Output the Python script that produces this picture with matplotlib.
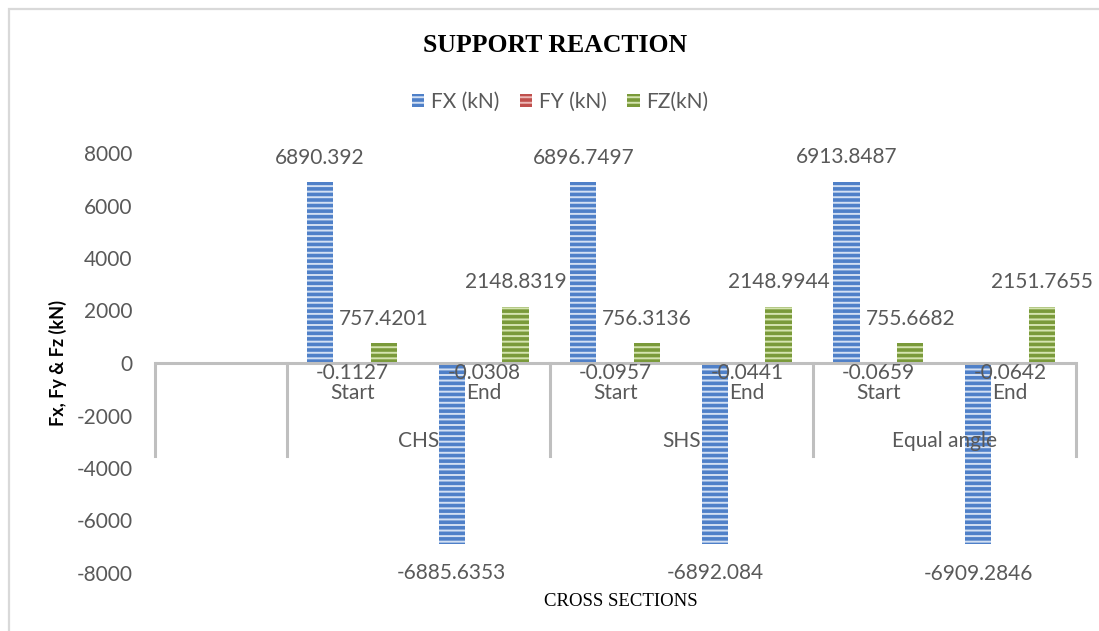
import matplotlib.pyplot as plt
import matplotlib.transforms as mtransforms
from matplotlib.patches import Rectangle
import numpy as np

# datos
categorias = ['Start', 'End', 'Start', 'End', 'Start', 'End']
grupos = ['CHS', 'SHS', 'Equal angle']
fx = [6890.392, -6885.6353, 6896.7497, -6892.084, 6913.8487, -6909.2846]
fy = [-0.1127, -0.0308, -0.0957, -0.0441, -0.0659, -0.0642]
fz = [757.4201, 2148.8319, 756.3136, 2148.9944, 755.6682, 2151.7655]
series = ['FX (kN)', 'FY (kN)', 'FZ(kN)']

plt.rcParams['font.family'] = ['Lato', 'DejaVu Sans']
plt.rcParams['axes.unicode_minus'] = False
plt.rcParams['hatch.linewidth'] = 1.4
gris = '#595959'
linea = '#BFBFBF'

W, H = 1099, 631
fig = plt.figure(figsize=(W / 100, H / 100), dpi=100)
ax = fig.add_axes([155 / W, 1 - 573 / H, 921 / W, 420 / H])

x = np.arange(len(categorias))
ancho = 0.2
desp = [-0.245, 0.0, 0.24]
colores = ['#4F80C8', '#C0504D', '#7A9A3A']
rayas = ['#D3E0F3', '#EDB9B7', '#D5E4B0']

for i, (vals, nombre) in enumerate(zip([fx, fy, fz], series)):
    plt.rcParams['hatch.color'] = rayas[i]
    ax.bar(x + desp[i], vals, ancho, color=colores[i], hatch='---',
           linewidth=0, label=nombre, zorder=2)

# etiquetas de valores
for i, vals in enumerate([fx, fy, fz]):
    for xi, v in zip(x, vals):
        if i == 1:
            off = -7.5
        elif v >= 0:
            off = 17.5
        else:
            off = -21
        ax.annotate(str(v), (xi + desp[i], v), xytext=(0, off),
                    textcoords='offset points', ha='center', va='center',
                    fontsize=15, color=gris, zorder=5)

ax.set_xlim(-1.5, 5.5)
ax.set_ylim(-8000, 8000)
ax.set_yticks(range(-8000, 8001, 2000))
ax.tick_params(axis='y', length=0, pad=16, labelsize=15, labelcolor=gris)
ax.set_xticks([])
for s in ax.spines.values():
    s.set_visible(False)

# eje horizontal y separadores de grupos
ax.axhline(0, color=linea, lw=2.2, zorder=3)
trans = mtransforms.blended_transform_factory(ax.transData, ax.transAxes)
for b in [-1.5, -0.5, 1.5, 3.5, 5.5]:
    ax.plot([b, b], [0.5, 0.279], transform=trans, color=linea, lw=2.2,
            clip_on=False, zorder=1)
for xi, c in zip(x, categorias):
    ax.text(xi, 0.4286, c, transform=trans, ha='center', va='center',
            fontsize=15, color=gris, zorder=5)
for j, g in enumerate(grupos):
    ax.text(2 * j + 0.5, 0.314, g, transform=trans, ha='center',
            va='center', fontsize=15, color=gris, zorder=5)

ax.set_ylabel('Fx, Fy & Fz (kN)', fontsize=13, fontweight='bold')
ax.yaxis.set_label_coords(-0.096, 0.5)

fig.text(555 / W, 1 - 45 / H, 'SUPPORT REACTION', ha='center', va='center',
         fontsize=18.5, fontweight='bold', family='Liberation Serif')
fig.text(621 / W, 1 - 601 / H, 'CROSS SECTIONS', ha='center', va='center',
         fontsize=13.5, family='Liberation Serif')

leg = fig.legend(loc='center', bbox_to_anchor=(560 / W, 1 - 102 / H), ncol=3,
                 frameon=False, fontsize=15, handlelength=0.6,
                 handleheight=0.6, handletextpad=0.3, columnspacing=1.0)
for t in leg.get_texts():
    t.set_color(gris)

# marco del gráfico
fig.patches.append(Rectangle((9 / W, -0.1), 1.2, 1 - 9 / H + 0.1,
                             transform=fig.transFigure, fill=False,
                             edgecolor='#D9D9D9', lw=1.6))

fig.savefig('out.png', dpi=100)
